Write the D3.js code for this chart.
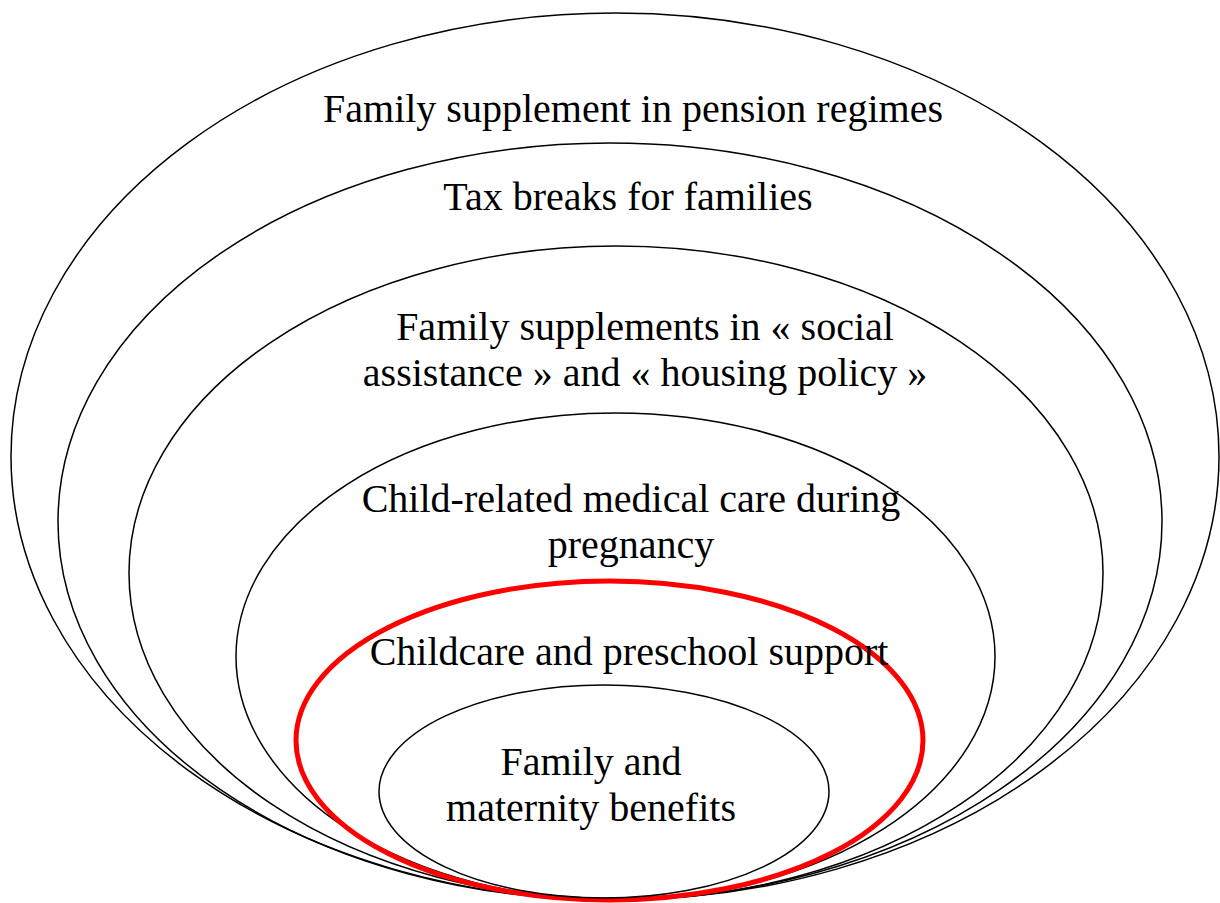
<!DOCTYPE html>
<html>
<head>
<meta charset="utf-8">
<script src="https://cdn.jsdelivr.net/npm/d3@7"></script>
<style>
  html, body { margin: 0; padding: 0; background: #fff; }
</style>
</head>
<body>
<div id="chart"></div>
<script>
// Niveaux du schéma, de l'extérieur vers l'intérieur
const levels = [
    "Family supplement in pension regimes",
    "Tax breaks for families",
    "Family supplements in « social assistance » and « housing policy »",
    "Child-related medical care during pregnancy",
    "Childcare and preschool support",
    "Family and maternity benefits"
];
const labelLines = [
    ["Family supplement in pension regimes"],
    ["Tax breaks for families"],
    ["Family supplements in « social", "assistance » and « housing policy »"],
    ["Child-related medical care during", "pregnancy"],
    ["Childcare and preschool support"],
    ["Family and", "maternity benefits"]
];
// Limites de chaque ellipse (unités du schéma)
const leftEdge   = [11, 58, 129, 236, 296, 379];
const rightEdge  = [1219, 1162, 1103, 995, 923, 829];
const topEdge    = [13, 143, 246, 413, 581, 685];
const bottomEdge = [900, 900, 900, 900, 900, 898];
// Position du libellé (centre x, première ligne de base)
const labelX = [633, 628, 645, 631, 629, 591];
const labelY = [122, 210, 340, 512, 665, 775];
const highlighted = "Childcare and preschool support";

const width = 1220, height = 903;

const svg = d3.select("#chart").append("svg")
    .attr("width", width)
    .attr("height", height);

const x = d3.scaleLinear().domain([0, 1220]).range([0, width]);
const y = d3.scaleLinear().domain([0, 903]).range([0, height]);

const data = levels.map((name, i) => ({
    name: name,
    lines: labelLines[i],
    x0: leftEdge[i], x1: rightEdge[i],
    y0: topEdge[i], y1: bottomEdge[i],
    lx: labelX[i], ly: labelY[i]
}));

// Ellipses
svg.selectAll("ellipse")
    .data(data)
    .enter().append("ellipse")
    .attr("cx", d => x((d.x0 + d.x1) / 2))
    .attr("cy", d => y((d.y0 + d.y1) / 2))
    .attr("rx", d => (x(d.x1) - x(d.x0)) / 2)
    .attr("ry", d => (y(d.y1) - y(d.y0)) / 2)
    .attr("fill", "none")
    .attr("stroke", d => d.name === highlighted ? "#ff0000" : "#000")
    .attr("stroke-width", d => d.name === highlighted ? 5 : 1.5);

// Libellés
const lineHeight = 46;
const labels = svg.selectAll("text.label")
    .data(data)
    .enter().append("text")
    .attr("class", "label")
    .attr("text-anchor", "middle")
    .style("font-family", "'Liberation Serif', 'Times New Roman', serif")
    .style("font-size", "40px")
    .attr("fill", "#000");

labels.selectAll("tspan")
    .data(d => d.lines.map((t, j) => ({ t: t, x: d.lx, y: d.ly + j * lineHeight })))
    .enter().append("tspan")
    .attr("x", d => x(d.x))
    .attr("y", d => y(d.y))
    .text(d => d.t);
</script>
</body>
</html>
